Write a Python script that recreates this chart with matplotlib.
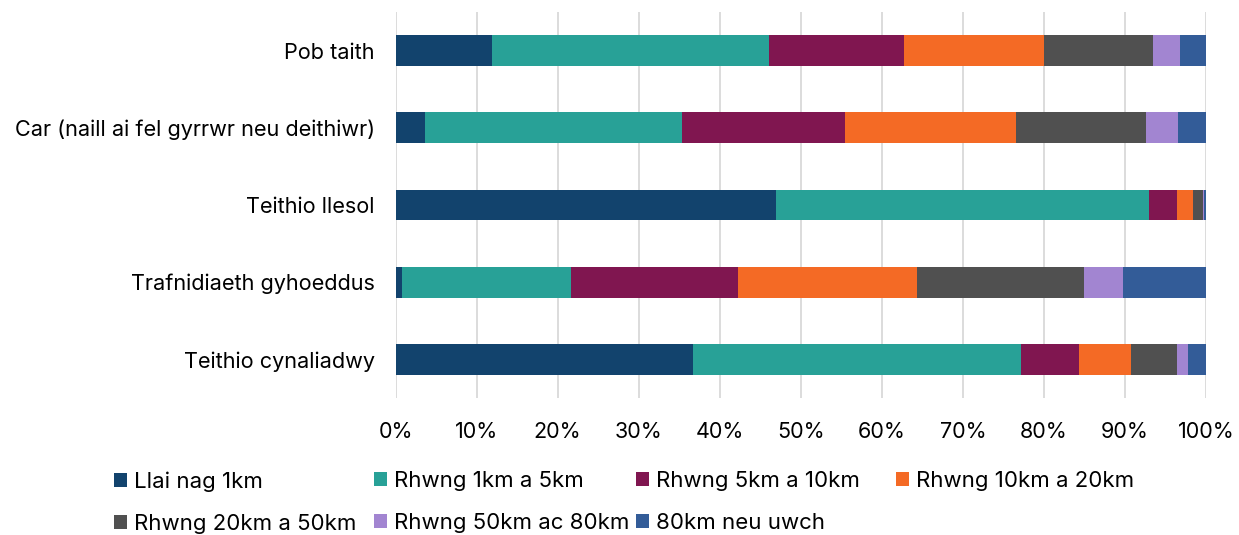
import matplotlib.pyplot as plt
import numpy as np

plt.rcParams['font.family'] = ['Inter', 'DejaVu Sans']

categories = ["Pob taith",
              "Car (naill ai fel gyrrwr neu deithiwr)",
              "Teithio llesol",
              "Trafnidiaeth gyhoeddus",
              "Teithio cynaliadwy"]

series = ["Llai nag 1km", "Rhwng 1km a 5km", "Rhwng 5km a 10km",
          "Rhwng 10km a 20km", "Rhwng 20km a 50km", "Rhwng 50km ac 80km",
          "80km neu uwch"]

# percent share per category, one list per distance band
llai_1 = [11.9, 3.6, 46.9, 0.8, 36.7]
r1_5 = [34.2, 31.8, 46.1, 20.8, 40.5]
r5_10 = [16.7, 20.0, 3.4, 20.7, 7.1]
r10_20 = [17.2, 21.2, 2.0, 22.0, 6.5]
r20_50 = [13.4, 16.0, 1.2, 20.6, 5.6]
r50_80 = [3.4, 3.9, 0.2, 4.9, 1.4]
r80_plus = [3.2, 3.5, 0.2, 10.2, 2.2]

colors = ["#12436D", "#28A197", "#801650", "#F46A25",
          "#505050", "#A285D1", "#335C98"]

data = [llai_1, r1_5, r5_10, r10_20, r20_50, r50_80, r80_plus]

fig = plt.figure(figsize=(12.39, 5.35), dpi=100)
ax = fig.add_axes([395.5 / 1239, 1 - 398 / 535, (1206 - 395.5) / 1239, 386 / 535])

y = np.arange(len(categories))
left = np.zeros(len(categories))
handles = []
for name, vals, c in zip(series, data, colors):
    b = ax.barh(y, vals, left=left, height=0.4, color=c, label=name, zorder=3)
    handles.append(b)
    left += np.array(vals)

ax.set_xlim(0, 100)
ax.set_ylim(len(categories) - 0.5, -0.5)
ax.set_yticks(y)
ax.set_yticklabels(categories, fontsize=15.6)
ax.set_xticks(np.arange(0, 101, 10))
ax.set_xticklabels([f"{v}%" for v in range(0, 101, 10)], fontsize=15.5)
ax.tick_params(length=0)
ax.tick_params(axis='y', pad=15)
ax.tick_params(axis='x', pad=17)
ax.grid(axis='x', color='#D9D9D9', linewidth=1.3, zorder=0)
for s in ax.spines.values():
    s.set_visible(False)

# legend laid out in fixed-width columns like the original
col_x = [114, 374, 636, 896]
order = [[0, 4], [1, 5], [2, 6], [3]]
for cx, idx in zip(col_x, order):
    leg = fig.legend([handles[i] for i in idx], [series[i] for i in idx],
                     loc='upper left', bbox_to_anchor=(cx / 1239, 1 - 471 / 535),
                     frameon=False, fontsize=16, handlelength=0.6, handleheight=0.6,
                     handletextpad=0.3, labelspacing=1.0, borderaxespad=0,
                     borderpad=0)

fig.savefig("out.png", dpi=100)
